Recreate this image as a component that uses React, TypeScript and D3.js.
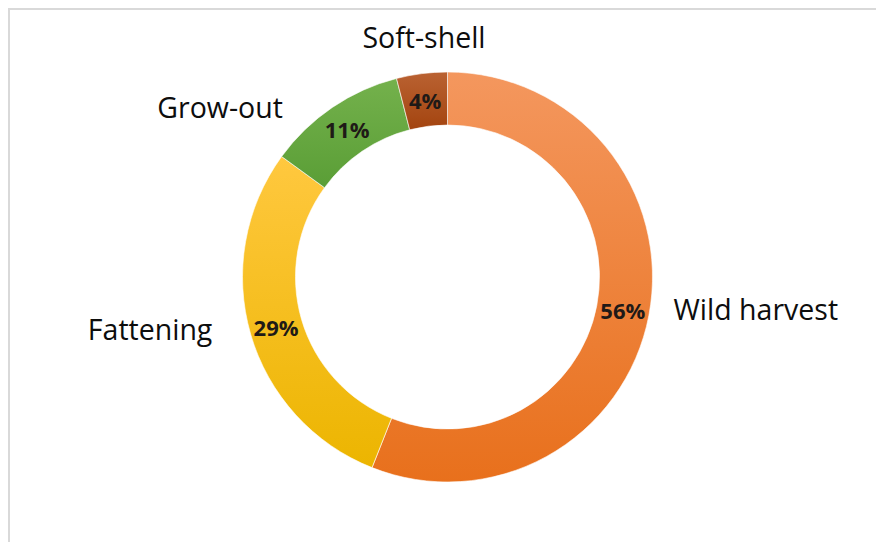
import React from "react";
import * as d3 from "d3";

const categories = ["Wild harvest", "Fattening", "Grow-out", "Soft-shell"];
const values = [56, 29, 11, 4];
const pctLabels = ["56%", "29%", "11%", "4%"];
const colorTop = ["#F4975E", "#FFC83F", "#74B14C", "#BA6232"];
const colorBottom = ["#E8701C", "#ECB500", "#5A9E36", "#A3440F"];

// layout (not data)
const W = 876;
const H = 542;
const CX = 447.5;
const CY = 277;
const R_OUT = 205;
const R_IN = 152;
// category label placement: polar angle (deg, clockwise from top) and radius of the label centre
const catLabelPolar: Record<string, { a: number; r: number }> = {
  "Wild harvest": { a: 96, r: 310 },
  Fattening: { a: 260, r: 302 },
  "Grow-out": { a: 306.8, r: 284 },
  "Soft-shell": { a: 354.4, r: 241 },
};

export default function App() {
  const pie = d3
    .pie<number>()
    .sort(null)
    .value((d) => d)(values);
  const arc = d3.arc<d3.PieArcDatum<number>>().innerRadius(R_IN).outerRadius(R_OUT);
  const labelArc = d3
    .arc<d3.PieArcDatum<number>>()
    .innerRadius((R_IN + R_OUT) / 2)
    .outerRadius((R_IN + R_OUT) / 2);

  const font = "'Open Sans', 'DejaVu Sans', sans-serif";

  return (
    <svg
      width={W}
      height={H}
      style={{ position: "absolute", left: 0, top: 0, display: "block", background: "#fff" }}
    >
      <defs>
        {categories.map((c, i) => (
          <linearGradient key={c} id={`g${i}`} x1="0" y1="0" x2="0" y2="1">
            <stop offset="0" stopColor={colorTop[i]} />
            <stop offset="1" stopColor={colorBottom[i]} />
          </linearGradient>
        ))}
      </defs>
      <rect x={9} y={9} width={W + 20} height={H + 20} fill="#fff" stroke="#d9d9d9" strokeWidth={2} />
      <g transform={`translate(${CX},${CY})`}>
        {pie.map((p, i) => (
          <path key={categories[i]} d={arc(p) || ""} fill={`url(#g${i})`} stroke="#ffffff" strokeWidth={0.6} />
        ))}
        {pie.map((p, i) => {
          const [x, y] = labelArc.centroid(p);
          return (
            <text
              key={"p" + i}
              x={x}
              y={y}
              textAnchor="middle"
              dominantBaseline="central"
              fontFamily={font}
              fontWeight={700}
              fontSize={22}
              fill="#1f1a17"
            >
              {pctLabels[i]}
            </text>
          );
        })}
        {categories.map((c) => {
          const pl = catLabelPolar[c];
          const rad = (pl.a * Math.PI) / 180;
          const x = Math.sin(rad) * pl.r;
          const y = -Math.cos(rad) * pl.r;
          return (
            <text
              key={c}
              x={x}
              y={y}
              textAnchor="middle"
              dominantBaseline="central"
              fontFamily={font}
              fontSize={28.5}
              fill="#0d0d0d"
            >
              {c}
            </text>
          );
        })}
      </g>
    </svg>
  );
}
